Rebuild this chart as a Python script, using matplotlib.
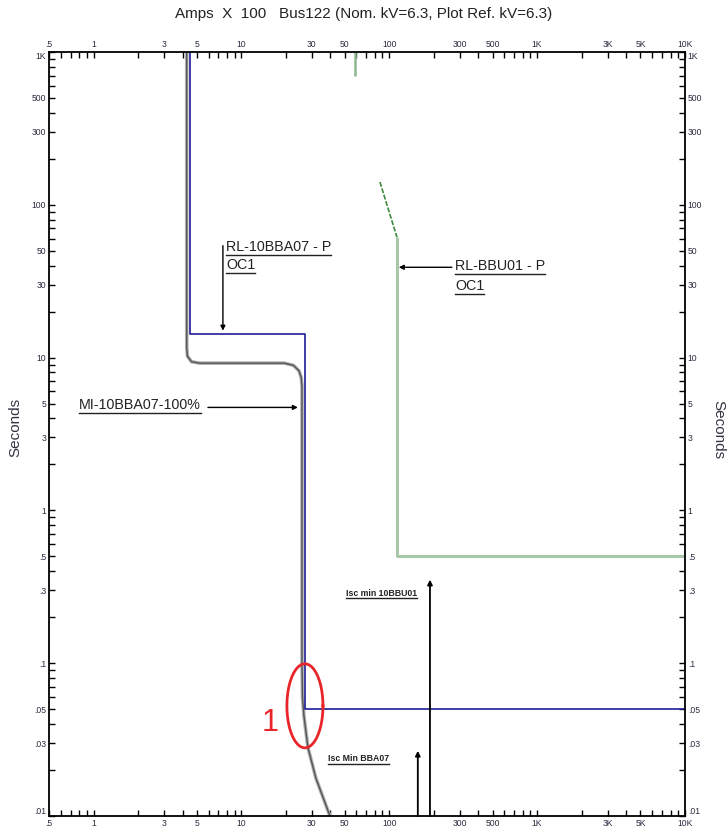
import numpy as np
import matplotlib
matplotlib.use("Agg")
import matplotlib.pyplot as plt
import matplotlib.patheffects as pe
from matplotlib.lines import Line2D
from matplotlib.ticker import FixedLocator, LogLocator, NullFormatter

plt.rcParams['font.family'] = ['Liberation Sans', 'DejaVu Sans']

# x axis: Amps x 100, y axis: seconds
x_ticks = [0.5, 1, 3, 5, 10, 30, 50, 100, 300, 500, 1000, 3000, 5000, 10000]
x_labels = ['.5', '1', '3', '5', '10', '30', '50', '100', '300', '500', '1K', '3K', '5K', '10K']
y_ticks = [0.01, 0.03, 0.05, 0.1, 0.3, 0.5, 1, 3, 5, 10, 30, 50, 100, 300, 500, 1000]
y_labels = ['.01', '.03', '.05', '.1', '.3', '.5', '1', '3', '5', '10', '30', '50', '100', '300', '500', '1K']

# relay RL-10BBA07 (definite time, two stages)
relay1_x = [4.5, 4.5, 26.9, 26.9, 10000]
relay1_y = [1000, 14.2, 14.2, 0.05, 0.05]

# motor starting curve MI-10BBA07-100%
motor_x = [4.27, 4.27, 4.32, 4.6, 5.2, 19.5, 22.5, 24.5, 25.4, 25.7, 25.7, 25.9, 26.5, 28.2, 31.9, 39.7]
motor_y = [1000, 11.5, 10.2, 9.4, 9.2, 9.2, 8.9, 8.2, 7.4, 6.5, 0.1, 0.06, 0.045, 0.028, 0.0177, 0.01]

# relay RL-BBU01
relay2_top_x = [58.5, 58.5]
relay2_top_y = [1000, 700]
relay2_inv_x = [86.5, 112.7]
relay2_inv_y = [141, 61.4]
relay2_x = [112.7, 112.7, 10000]
relay2_y = [61.4, 0.5, 0.5]

# short circuit currents
isc_x = [188.5, 156]
isc_tip = [0.352, 0.0267]
isc_text = ['Isc min 10BBU01', 'Isc Min BBA07']
isc_text_x = [50.9, 38.5]
isc_text_y = [0.277, 0.0229]

# highlight ellipse "1"
ell_cx, ell_cy = 26.9, 0.0526
ell_ax, ell_ay = 0.122, 0.275

fig = plt.figure(figsize=(7.28, 8.3), dpi=100)
ax = fig.add_axes([49 / 728, 1 - 816 / 830, 636 / 728, 764 / 830])
ax.set_xscale('log')
ax.set_yscale('log')
ax.set_xlim(0.5, 10000)
ax.set_ylim(0.01, 1000)

ax.plot(relay2_top_x, relay2_top_y, color='#8fb88f', lw=1.8, solid_capstyle='butt')
ax.plot(relay2_inv_x, relay2_inv_y, color='#3d8a3d', lw=1.2, ls=(0, (3, 1)))
ax.plot(relay2_x, relay2_y, color='#a9c8a9', lw=2.2, solid_capstyle='butt')

ax.plot(motor_x, motor_y, color='#555555', lw=1.0,
        path_effects=[pe.Stroke(linewidth=2.6, foreground='#b0b0b0'), pe.Normal()])
ax.plot(relay1_x, relay1_y, color='#1c1c96', lw=1.2)

arrow_kw = dict(arrowstyle='-|>', color='black', lw=1.0, mutation_scale=7, shrinkA=0, shrinkB=0)
for xi, tip in zip(isc_x, isc_tip):
    ax.annotate('', xy=(xi, tip), xytext=(xi, 0.01), arrowprops=dict(arrow_kw, lw=1.3))

ax.annotate('', xy=(7.5, 15.0), xytext=(7.5, 54), arrowprops=arrow_kw)
ax.annotate('', xy=(24.1, 4.72), xytext=(5.94, 4.72), arrowprops=arrow_kw)
ax.annotate('', xy=(116, 39), xytext=(265, 39), arrowprops=arrow_kw)

underlined = []
lab_kw = dict(fontsize=10.3, color='#222222', va='baseline', ha='left')
underlined.append(ax.text(7.87, 49.7, 'RL-10BBA07 - P', **lab_kw))
underlined.append(ax.text(7.87, 37.8, 'OC1', **lab_kw))
underlined.append(ax.text(0.80, 4.58, 'MI-10BBA07-100%', **lab_kw))
underlined.append(ax.text(278, 37.3, 'RL-BBU01 - P', **lab_kw))
underlined.append(ax.text(278, 27.5, 'OC1', **lab_kw))
for tx, ty, s in zip(isc_text_x, isc_text_y, isc_text):
    underlined.append(ax.text(tx, ty, s, fontsize=6.3, fontweight='bold', color='#222222',
                              va='baseline', ha='left'))

t = np.linspace(0, 2 * np.pi, 200)
ex = 10 ** (np.log10(ell_cx) + ell_ax * np.cos(t))
ey = 10 ** (np.log10(ell_cy) + ell_ay * np.sin(t))
ax.plot(ex, ey, color='#e8262a', lw=2.0)
ax.text(15.6, 0.0405, '1', color='#e8262a', fontsize=22, ha='center', va='center')

# ticks on all four sides, pointing in
ax.xaxis.set_major_locator(FixedLocator(x_ticks))
ax.xaxis.set_minor_locator(LogLocator(base=10, subs=np.arange(2, 10)))
ax.xaxis.set_minor_formatter(NullFormatter())
ax.set_xticklabels(x_labels)
ax.yaxis.set_major_locator(FixedLocator(y_ticks))
ax.yaxis.set_minor_locator(LogLocator(base=10, subs=np.arange(2, 10)))
ax.yaxis.set_minor_formatter(NullFormatter())
ax.set_yticklabels(y_labels)
ax.tick_params(which='both', direction='in', top=True, right=True, length=4, width=1.0,
               labeltop=True, labelright=True, labelsize=6.2, labelcolor='#2a2a40', pad=2)
for sp in ax.spines.values():
    sp.set_linewidth(1.3)

# end labels sit just inside the frame so they clear the x labels
ymaj = ax.yaxis.get_major_ticks()
for tk in (ymaj[0],):
    tk.label1.set_va('bottom')
    tk.label2.set_va('bottom')
for tk in (ymaj[-1],):
    tk.label1.set_va('top')
    tk.label2.set_va('top')

fig.text(15 / 728, 1 - 427 / 830, 'Seconds', rotation=90, fontsize=11, color='#333344',
         ha='center', va='center')
fig.text(718 / 728, 1 - 430 / 830, 'Seconds', rotation=-90, fontsize=11, color='#333344',
         ha='center', va='center')
fig.text(0.5, 1 - 14 / 830, 'Amps  X  100   Bus122 (Nom. kV=6.3, Plot Ref. kV=6.3)',
         fontsize=11, ha='center', va='center', color='#222222')

# underline the labels
fig.canvas.draw()
r = fig.canvas.get_renderer()
inv = fig.transFigure.inverted()
for txt in underlined:
    bb = txt.get_window_extent(r)
    (x0, y0), (x1, _) = inv.transform([(bb.x0, bb.y0 - 0.5), (bb.x1, bb.y0)])
    fig.add_artist(Line2D([x0, x1], [y0, y0], transform=fig.transFigure, color='#222222', lw=1.0))

fig.savefig('out.png', dpi=100)
